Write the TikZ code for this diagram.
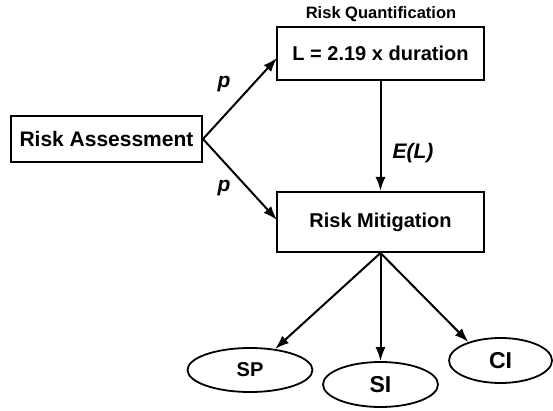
\documentclass[tikz,border=0pt]{standalone}
\usepackage{fontspec}
\setmainfont{Liberation Sans}
\usetikzlibrary{arrows.meta,shapes.geometric}
\begin{document}
\begin{tikzpicture}[x=1pt,y=-1pt,
  box/.style={draw,line width=2pt,rectangle,inner sep=0pt,font=\bfseries\fontsize{20}{24}\selectfont},
  oval/.style={draw,line width=1.8pt,ellipse,inner sep=0pt},
  arr/.style={line width=2pt,-{Latex[length=14pt,width=10pt]}},
  lbl/.style={font=\bfseries\itshape\fontsize{21}{25}\selectfont}]
\useasboundingbox (0,0) rectangle (553,411);
\node[box,minimum width=191pt,minimum height=46pt,font=\bfseries\fontsize{21}{25}\selectfont] (ra) at (106.5,139) {Risk Assessment};
\node[box,minimum width=207pt,minimum height=53pt] (lq) at (380.5,53.5) {L = 2.19 x duration};
\node[font=\bfseries\fontsize{16.5}{20}\selectfont] (rqt) at (381,14) {Risk Quantification};
\node[box,minimum width=207pt,minimum height=60pt] (rm) at (380.5,222) {Risk Mitigation};
\node[oval,minimum width=125pt,minimum height=44pt,font=\bfseries\fontsize{20}{24}\selectfont] (sp) at (250,370) {SP};
\node[oval,minimum width=115pt,minimum height=45pt,font=\bfseries\fontsize{23}{27}\selectfont] (si) at (380.5,384.5) {SI};
\node[oval,minimum width=103pt,minimum height=45pt,font=\bfseries\fontsize{23}{27}\selectfont] (ci) at (500.5,360.5) {CI};
\coordinate (lqin) at (277,58);
\coordinate (rmin) at (277,220);
\draw[arr] (ra.east) -- (lqin);
\draw[arr] (ra.east) -- (rmin);
\draw[arr] (lq.south) -- (rm.north);
\draw[arr] (rm.south) -- (sp.40);
\draw[arr] (rm.south) -- (si.north);
\draw[arr] (rm.south) -- (ci.150);
\node[lbl] (p1) at (224,84) {p};
\node[lbl] (p2) at (224,188) {p};
\node[lbl] (el) at (413,153) {E(L)};
\end{tikzpicture}
\end{document}
